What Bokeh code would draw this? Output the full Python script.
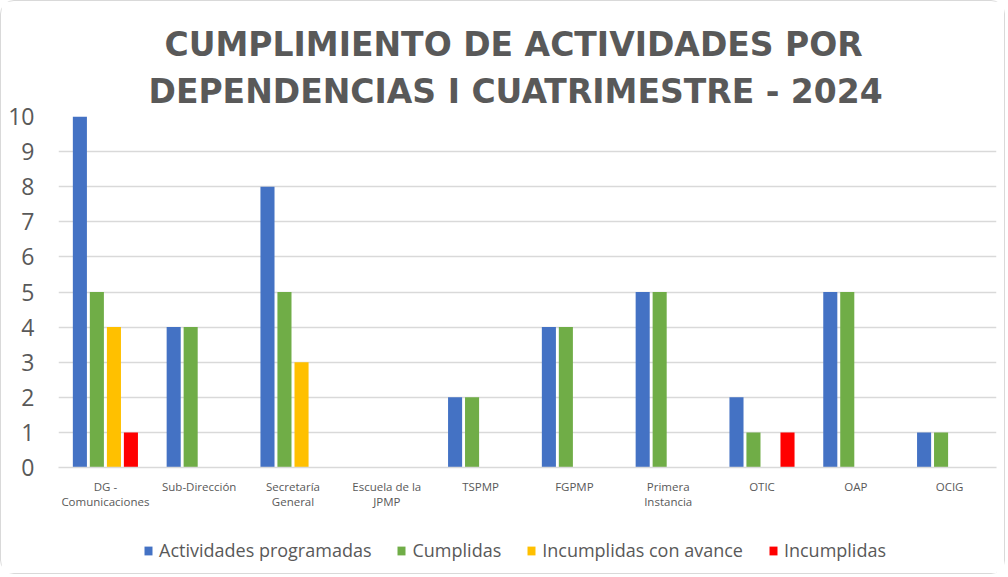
from bokeh.plotting import figure
from bokeh.models import FactorRange, Range1d, Title, Legend, LegendItem, ColumnDataSource
from bokeh.layouts import column
from bokeh.transform import dodge
from bokeh.embed import file_html
from bokeh.resources import INLINE

categories = ["DG -\nComunicaciones", "Sub-Dirección", "Secretaría\nGeneral", "Escuela de la\nJPMP",
              "TSPMP", "FGPMP", "Primera\nInstancia", "OTIC", "OAP", "OCIG"]
programadas = [10, 4, 8, 0, 2, 4, 5, 2, 5, 1]
cumplidas = [5, 4, 5, 0, 2, 4, 5, 1, 5, 1]
incumplidas_avance = [4, 0, 3, 0, 0, 0, 0, 0, 0, 0]
incumplidas = [1, 0, 0, 0, 0, 0, 0, 1, 0, 0]

series = [
    ("Actividades programadas", "programadas", "#4472C4"),
    ("Cumplidas", "cumplidas", "#70AD47"),
    ("Incumplidas con avance", "avance", "#FFC000"),
    ("Incumplidas", "incumplidas", "#FF0000"),
]

src = ColumnDataSource(dict(cat=categories, programadas=programadas, cumplidas=cumplidas,
                            avance=incumplidas_avance, incumplidas=incumplidas))

TXT = "#595959"
W = 1003
p = figure(width=W, height=516, x_range=FactorRange(*categories, range_padding=0),
           y_range=Range1d(0, 10), output_backend="svg", toolbar_location=None,
           min_border_left=57, min_border_right=W - 57 - 938, min_border_top=115, min_border_bottom=50)
p.title = None
title_style = dict(align="left", text_font="DejaVu Sans", text_font_style="bold",
                   text_font_size="33px", text_color=TXT)
p.add_layout(Title(text="DEPENDENCIAS I CUATRIMESTRE - 2024", standoff=12, offset=90, **title_style), "above")
p.add_layout(Title(text="CUMPLIMIENTO DE ACTIVIDADES POR", standoff=0, offset=106, **title_style), "above")

offsets = [-0.272, -0.091, 0.091, 0.272]
for (label, col, color), off in zip(series, offsets):
    p.vbar(x=dodge("cat", off, range=p.x_range), top=col, width=0.15, source=src,
           fill_color=color, line_color=None)

p.yaxis.ticker = list(range(0, 11))
p.yaxis.axis_line_color = None
p.yaxis.major_tick_line_color = None
p.yaxis.minor_tick_line_color = None
p.yaxis.major_label_text_font = "Open Sans"
p.yaxis.major_label_text_font_size = "23px"
p.yaxis.major_label_text_color = TXT
p.yaxis.major_label_standoff = 18

p.xaxis.axis_line_color = "#D9D9D9"
p.xaxis.axis_line_width = 1.5
p.xaxis.major_tick_line_color = None
p.xaxis.minor_tick_line_color = None
p.xaxis.major_label_text_font = "Open Sans"
p.xaxis.major_label_text_font_size = "11.5px"
p.xaxis.major_label_text_color = TXT
p.xaxis.major_label_standoff = 5
p.xaxis.major_label_text_line_height = 1.0

p.xgrid.grid_line_color = None
p.ygrid.grid_line_color = "#D9D9D9"
p.ygrid.grid_line_width = 1.5
p.outline_line_color = None

# legend strip below the chart (bars lie outside its visible y-range; only the legend shows)
lg = figure(width=W, height=56, x_range=FactorRange(*categories, range_padding=0),
            y_range=Range1d(20, 21), output_backend="svg", toolbar_location=None,
            x_axis_location=None, y_axis_location=None,
            min_border_left=0, min_border_right=0, min_border_top=0, min_border_bottom=0)
lg.grid.visible = False
lg.outline_line_color = None
items = []
for (label, col, color), off in zip(series, offsets):
    r = lg.vbar(x=dodge("cat", off, range=lg.x_range), top=col, width=0.15, source=src,
                fill_color=color, line_color=None)
    items.append(LegendItem(label=label, renderers=[r]))
legend = Legend(items=items, orientation="horizontal", location=(85, 11),
                label_text_font="Open Sans", label_text_font_size="18px", label_text_color=TXT,
                glyph_width=10, glyph_height=11, spacing=25, label_standoff=6,
                border_line_color=None, background_fill_alpha=0, margin=0, padding=4)
lg.add_layout(legend, "center")

layout = column(p, lg, spacing=0,
                styles={"border": "1.5px solid #D9D9D9", "border-radius": "14px"})

open("out.html", "w").write(file_html(layout, INLINE))
